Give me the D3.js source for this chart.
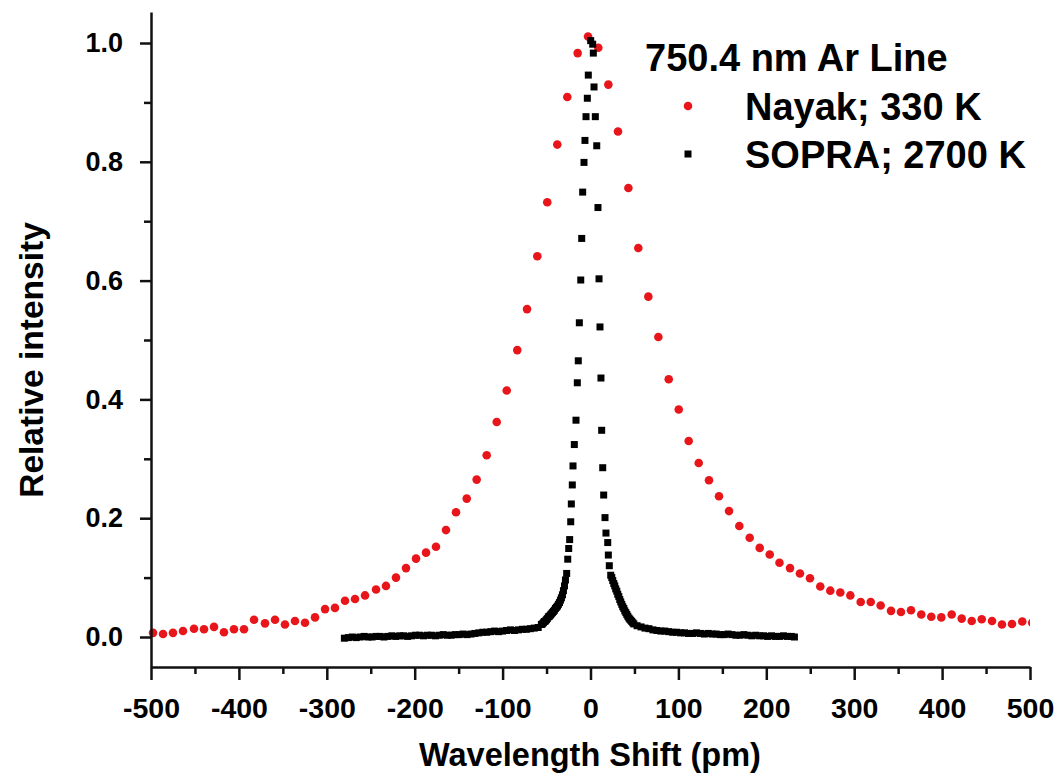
<!DOCTYPE html>
<html><head><meta charset="utf-8">
<script src="https://cdn.jsdelivr.net/npm/d3@7"></script>
<style>
body{margin:0;background:#fff;}
text{font-family:"Liberation Sans",Arial,sans-serif;font-weight:bold;fill:#000;}
</style>
</head><body><svg id="c" width="1060" height="774"></svg>
<script>
// ---- data ----
const nayakX=[-497.7,-486.3,-475.0,-463.6,-451.1,-439.7,-428.3,-417.0,-405.6,-394.2,-382.8,-370.3,-358.9,-347.6,-336.2,-324.8,-313.4,-302.0,-290.7,-279.3,-267.9,-256.5,-244.0,-232.7,-221.3,-209.9,-198.5,-187.1,-175.8,-164.4,-153.0,-140.8,-129.5,-118.1,-106.7,-95.3,-83.3,-72.2,-60.5,-49.2,-37.8,-26.4,-14.6,-2.8,8.9,20.3,31.3,43.1,54.4,65.8,77.2,89.0,100.4,111.7,123.1,134.8,146.2,157.6,169.3,181.1,192.5,203.9,215.0,227.0,238.3,249.7,261.4,272.8,284.2,295.6,307.4,318.8,330.1,341.9,353.2,364.6,376.3,387.7,399.1,410.9,422.3,433.7,445.1,456.8,468.1,479.5,491.2,502.5];
const nayakY=[0.007,0.005,0.007,0.010,0.014,0.013,0.017,0.008,0.013,0.013,0.029,0.023,0.029,0.021,0.027,0.024,0.033,0.047,0.049,0.061,0.064,0.070,0.080,0.086,0.100,0.116,0.132,0.142,0.152,0.180,0.210,0.233,0.265,0.306,0.362,0.415,0.483,0.552,0.641,0.732,0.829,0.909,0.983,1.011,0.992,0.930,0.851,0.756,0.655,0.573,0.505,0.434,0.383,0.330,0.293,0.264,0.237,0.212,0.187,0.167,0.150,0.139,0.125,0.116,0.107,0.099,0.085,0.078,0.075,0.070,0.059,0.059,0.053,0.044,0.042,0.045,0.038,0.034,0.033,0.038,0.031,0.027,0.030,0.027,0.021,0.022,0.026,0.024];

const sopraX=[-280,-275.5,-271,-266.5,-262,-257.5,-253,-248.5,-244,-239.5,-235,-230.5,-226,-221.5,-217,-212.5,-208,-203.5,-199,-194.5,-190,-185.5,-181,-176.5,-172,-167.5,-163,-158.5,-154,-149.5,-145,-140.5,-136,-131.5,-127,-122.5,-118,-113.5,-109,-104.5,-100,-95.5,-91,-86.5,-82,-77.5,-73,-68.5,-64,-59.5,
-55.9,-54.8,-53.6,-52.5,-51.3,-50.2,-49.1,-47.9,-46.8,-45.6,-44.5,-43.3,-42.2,-41.1,-39.9,-38.8,-37.6,-36.5,-35.3,-34.2,-33.1,-31.9,-30.8,-29.6,-28.5,
-27.1,-25.9,-24.8,-23.7,-22.5,-21.8,-20.7,-19.9,-18.4,-16.5,-15.0,-13.9,-12.7,-11.1,-10.0,-8.9,-7.4,-6.3,-5.1,-3.6,-2.5,0.2,
2.5,3.2,4.0,5.5,7.1,8.5,9.7,10.8,11.9,12.7,13.9,15.0,16.5,17.6,19.6,20.3,21.4,23.0,
24.2,25.3,26.5,27.6,28.7,29.9,31.0,32.2,33.3,34.4,35.6,36.7,37.9,39.0,40.2,41.3,42.4,43.6,44.7,45.9,47.0,48.1,49.3,
53,57.5,62,66.5,71,75.5,80,84.5,89,93.5,98,102.5,107,111.5,116,120.5,125,129.5,134,138.5,143,147.5,152,156.5,161,165.5,170,174.5,179,183.5,188,192.5,197,201.5,206,210.5,215,219.5,224,228.5,232];
const sopraY=[-0.002,-0.001,0.000,-0.001,0.000,0.001,0.000,0.000,0.001,0.001,0.000,0.001,0.002,0.001,0.002,0.002,0.001,0.002,0.003,0.003,0.002,0.003,0.003,0.002,0.003,0.004,0.003,0.003,0.004,0.004,0.005,0.004,0.005,0.006,0.007,0.008,0.008,0.009,0.010,0.009,0.010,0.011,0.012,0.011,0.012,0.013,0.013,0.014,0.015,0.016,
0.021,0.022,0.024,0.026,0.027,0.029,0.031,0.034,0.035,0.037,0.039,0.041,0.043,0.045,0.048,0.050,0.052,0.055,0.058,0.062,0.066,0.071,0.078,0.086,0.096,
0.107,0.131,0.149,0.164,0.194,0.224,0.256,0.288,0.324,0.365,0.428,0.465,0.529,0.601,0.671,0.749,0.799,0.836,0.876,0.907,0.946,1.004,
0.998,0.983,0.926,0.876,0.827,0.723,0.603,0.522,0.436,0.348,0.285,0.239,0.201,0.175,0.159,0.138,0.120,0.104,
0.100,0.095,0.090,0.086,0.081,0.077,0.072,0.068,0.063,0.059,0.055,0.051,0.048,0.044,0.041,0.038,0.035,0.032,0.030,0.028,0.026,0.024,0.022,
0.019,0.017,0.015,0.014,0.012,0.011,0.010,0.010,0.009,0.008,0.008,0.007,0.007,0.006,0.006,0.007,0.006,0.005,0.006,0.005,0.005,0.004,0.004,0.005,0.004,0.003,0.003,0.004,0.003,0.002,0.003,0.002,0.002,0.001,0.002,0.001,0.001,0.002,0.001,0.001,0.000];

const xTickValues=[-500,-400,-300,-200,-100,0,100,200,300,400,500];
const xMinorValues=[-450,-350,-250,-150,-50,50,150,250,350,450];
const yTickValues=[0,0.2,0.4,0.6,0.8,1.0];
const yMinorValues=[0.1,0.3,0.5,0.7,0.9];
const legendTitle="750.4 nm Ar Line";
const seriesNames=["Nayak; 330 K","SOPRA; 2700 K"];
const xTitle="Wavelength Shift (pm)";
const yTitle="Relative intensity";

// ---- chart ----
const svg=d3.select("#c");
const x=d3.scaleLinear().domain([-500,500]).range([151,1030]);
const y=d3.scaleLinear().domain([-0.0505,1.0522]).range([667,12]);
const red="#e8161b";

svg.append("defs").append("clipPath").attr("id","clip")
  .append("rect").attr("x",147).attr("y",0).attr("width",883).attr("height",667);

const plot=svg.append("g").attr("clip-path","url(#clip)");
const nayak=nayakX.map((v,i)=>({x:v,y:nayakY[i]}));
const sopra=sopraX.map((v,i)=>({x:v,y:sopraY[i]}));
plot.selectAll("circle.n").data(nayak).enter().append("circle")
  .attr("cx",d=>x(d.x)).attr("cy",d=>y(d.y)).attr("r",4.3).attr("fill",red);
const s=7;
plot.selectAll("rect.s").data(sopra).enter().append("rect")
  .attr("x",d=>x(d.x)-s/2).attr("y",d=>y(d.y)-s/2).attr("width",s).attr("height",s).attr("fill","#000");

// axes
const xAxis=svg.append("g").attr("transform","translate(0,667)")
  .call(d3.axisBottom(x).tickValues(xTickValues).tickSize(13).tickSizeOuter(0).tickPadding(18).tickFormat(d3.format("d")));
svg.append("g").attr("transform","translate(0,667)")
  .call(d3.axisBottom(x).tickValues(xMinorValues).tickSize(7).tickFormat("")).select(".domain").remove();
const yAxis=svg.append("g").attr("transform","translate(151,0)")
  .call(d3.axisLeft(y).tickValues(yTickValues).tickSize(11).tickSizeOuter(0).tickPadding(17).tickFormat(d3.format(".1f")));
svg.append("g").attr("transform","translate(151,0)")
  .call(d3.axisLeft(y).tickValues(yMinorValues).tickSize(7).tickFormat("")).select(".domain").remove();
svg.selectAll(".domain, .tick line").attr("stroke","#111").attr("stroke-width",2.5);
svg.selectAll(".tick text").attr("font-family","'Liberation Sans',Arial,sans-serif").attr("font-weight","bold").attr("fill","#000");
yAxis.selectAll(".tick text").attr("font-size",27);
xAxis.selectAll(".tick text").attr("font-size",28.5).text(d=>d3.format("d")(d).replace("−","-"));

// titles
svg.append("text").attr("x",590).attr("y",766).attr("text-anchor","middle").attr("font-size",32.5).text(xTitle);
svg.append("text").attr("transform","translate(43,360) rotate(-90)").attr("text-anchor","middle").attr("font-size",33.5).text(yTitle);

// legend
svg.append("text").attr("x",645).attr("y",71).attr("font-size",38).text(legendTitle);
svg.append("circle").attr("cx",688).attr("cy",106).attr("r",4.3).attr("fill",red);
svg.append("text").attr("x",745).attr("y",120).attr("font-size",38).text(seriesNames[0]);
svg.append("rect").attr("x",688-3.5).attr("y",154-3.5).attr("width",7).attr("height",7).attr("fill","#000");
svg.append("text").attr("x",745).attr("y",168).attr("font-size",38).text(seriesNames[1]);
</script>
</body></html>
